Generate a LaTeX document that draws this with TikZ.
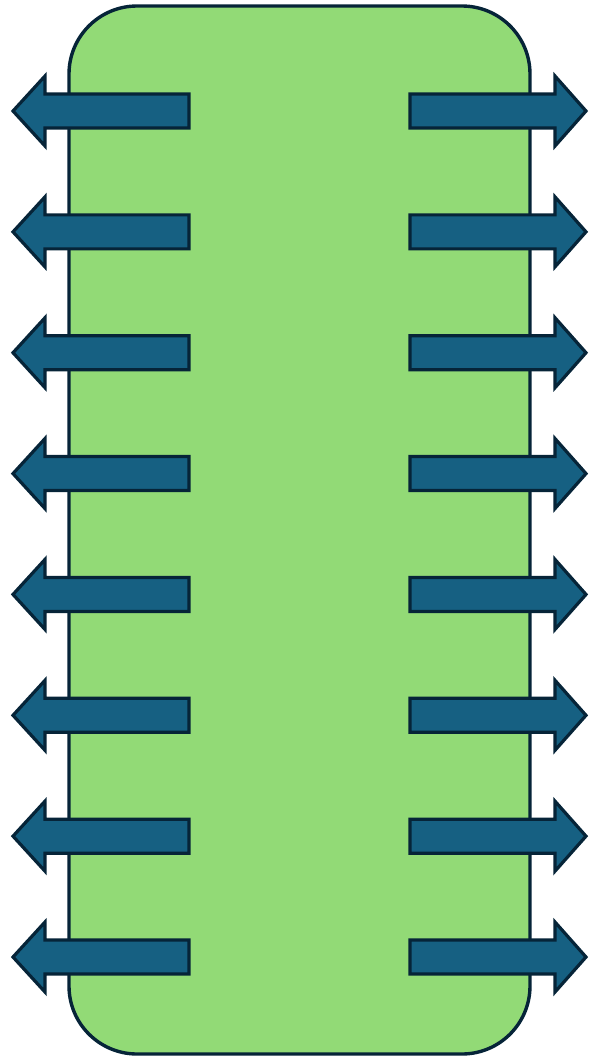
\documentclass[tikz,border=0pt]{standalone}
\usetikzlibrary{calc}
\definecolor{boardgreen}{RGB}{146,218,118}
\definecolor{pinblue}{RGB}{22,96,130}
\definecolor{edgenavy}{RGB}{6,36,56}
\tikzset{
  board/.style={fill=boardgreen, draw=edgenavy, line width=3.4pt, rounded corners=68pt},
  pin/.style={fill=pinblue, draw=edgenavy, line width=3.2pt, line join=miter}
}
\begin{document}
\begin{tikzpicture}[x=1pt, y=-1pt]
  \useasboundingbox (0,0) rectangle (590,1058);
  % chip body
  \draw[board] (69,6) rectangle (530,1054);
  % eight pins on each side
  \foreach \i in {0,...,7} {
    \pgfmathsetmacro{\yc}{111+120.86*\i}
    % left pin, pointing outward
    \draw[pin] (189,\yc-17) -- (45,\yc-17) -- (45,\yc-35) -- (13,\yc)
               -- (45,\yc+35) -- (45,\yc+17) -- (189,\yc+17) -- cycle;
    % right pin, pointing outward
    \draw[pin] (410,\yc-17) -- (555,\yc-17) -- (555,\yc-35) -- (586,\yc)
               -- (555,\yc+35) -- (555,\yc+17) -- (410,\yc+17) -- cycle;
  }
\end{tikzpicture}
\end{document}
